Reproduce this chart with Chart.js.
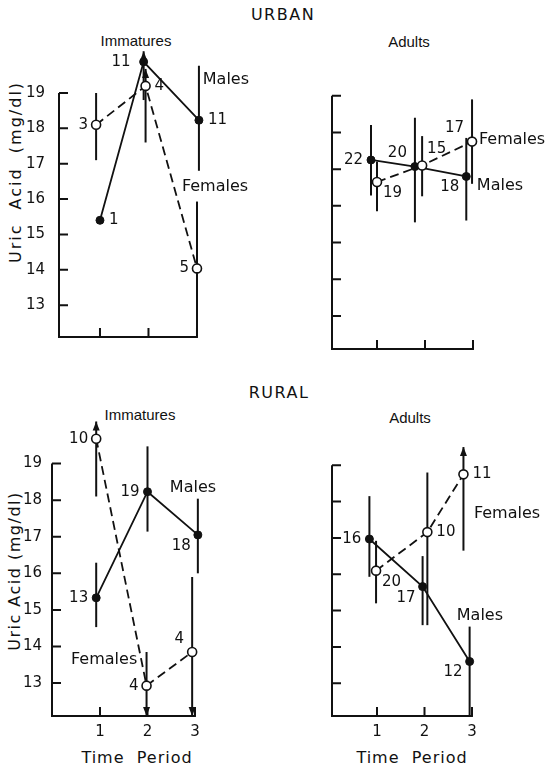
<!DOCTYPE html>
<html>
<head>
<meta charset="utf-8">
<script src="https://cdn.jsdelivr.net/npm/chart.js@4.4.1/dist/chart.umd.min.js"></script>
<style>
  body { margin: 0; background: #fff; }
  #wrap { position: relative; width: 547px; height: 766px; font-family: 'DejaVu Sans', sans-serif; color: #111; }
  canvas { position: absolute; }
  .lbl { position: absolute; white-space: pre; transform: translate(-50%, -50%); }
  .head { font-family: 'Liberation Sans', sans-serif; font-size: 15px; }
  .ytitle { position: absolute; white-space: pre; font-size: 16px; transform: translate(-50%, -50%) rotate(-90deg); }
</style>
</head>
<body>
<div id="wrap">
  <div class="lbl" style="left:283px;top:14px;font-size:16px;letter-spacing:1.5px">URBAN</div>
  <div class="lbl" style="left:279px;top:392px;font-size:16px;letter-spacing:1.5px">RURAL</div>
  <div class="lbl head" style="left:136px;top:40px">Immatures</div>
  <div class="lbl head" style="left:409px;top:41px">Adults</div>
  <div class="lbl head" style="left:140px;top:414px">Immatures</div>
  <div class="lbl head" style="left:410px;top:417px">Adults</div>
  <div class="ytitle" style="left:15px;top:172px;letter-spacing:2px">Uric  Acid  (mg/dl)</div>
  <div class="ytitle" style="left:14px;top:571px;letter-spacing:1.5px">Uric Acid (mg/dl)</div>
  <div class="lbl" style="left:137px;top:757px;font-size:16px;letter-spacing:1px">Time  Period</div>
  <div class="lbl" style="left:412px;top:757px;font-size:16px;letter-spacing:1px">Time  Period</div>

  <canvas id="urbanImm" width="273" height="360" style="left:0;top:0"></canvas>
  <canvas id="urbanAdult" width="274" height="360" style="left:273px;top:0"></canvas>
  <canvas id="ruralImm" width="273" height="406" style="left:0;top:360px"></canvas>
  <canvas id="ruralAdult" width="274" height="406" style="left:273px;top:360px"></canvas>
</div>

<script>
const periods = [1, 2, 3];
const yTickValues = [13, 14, 15, 16, 17, 18, 19];

// Urban immatures
const urbImmMaleX = [1.0, 1.9, 3.04];
const urbImmMaleMean = [15.4, 19.88, 18.23];
const urbImmMaleLow = [null, 18.8, 16.8];
const urbImmMaleHigh = [null, 20.18, 19.77];
const urbImmMaleArrow = ['', 'up', ''];
const urbImmMaleN = [1, 11, 11];
const urbImmFemX = [0.92, 1.94, 3.0];
const urbImmFemMean = [18.1, 19.2, 14.04];
const urbImmFemLow = [17.1, 17.6, 12.1];
const urbImmFemHigh = [19.0, 19.68, 15.93];
const urbImmFemArrow = ['', 'up', ''];
const urbImmFemN = [3, 4, 5];

// Urban adults
const urbAdMaleX = [0.875, 1.79, 2.86];
const urbAdMaleMean = [17.25, 17.07, 16.8];
const urbAdMaleLow = [16.28, 15.55, 15.6];
const urbAdMaleHigh = [18.2, 18.4, 17.85];
const urbAdMaleArrow = ['', '', ''];
const urbAdMaleN = [22, 20, 18];
const urbAdFemX = [1.0, 1.94, 2.98];
const urbAdFemMean = [16.65, 17.1, 17.75];
const urbAdFemLow = [15.85, 16.26, 16.6];
const urbAdFemHigh = [17.2, 17.9, 18.9];
const urbAdFemArrow = ['', '', ''];
const urbAdFemN = [19, 15, 17];

// Rural immatures
const rurImmMaleX = [0.92, 2.0, 3.06];
const rurImmMaleMean = [15.33, 18.23, 17.05];
const rurImmMaleLow = [14.53, 17.14, 16.0];
const rurImmMaleHigh = [16.29, 19.47, 18.04];
const rurImmMaleArrow = ['', '', ''];
const rurImmMaleN = [13, 19, 18];
const rurImmFemX = [0.92, 1.98, 2.94];
const rurImmFemMean = [19.68, 12.93, 13.85];
const rurImmFemLow = [18.1, 12.1, 12.1];
const rurImmFemHigh = [20.15, 13.85, 15.9];
const rurImmFemArrow = ['up', 'down', 'down'];
const rurImmFemN = [10, 4, 4];

// Rural adults
const rurAdMaleX = [0.84, 1.96, 2.95];
const rurAdMaleMean = [16.97, 15.66, 13.6];
const rurAdMaleLow = [15.93, 14.6, 12.1];
const rurAdMaleHigh = [18.15, 16.5, 14.56];
const rurAdMaleArrow = ['', '', ''];
const rurAdMaleN = [16, 17, 12];
const rurAdFemX = [0.98, 2.06, 2.82];
const rurAdFemMean = [16.1, 17.16, 18.75];
const rurAdFemLow = [15.2, 14.6, 16.65];
const rurAdFemHigh = [16.92, 18.8, 19.5];
const rurAdFemArrow = ['', '', 'up'];
const rurAdFemN = [20, 10, 11];

const ink = '#111';
Chart.defaults.font.family = "'DejaVu Sans', sans-serif";
Chart.defaults.color = ink;

// where the sample size sits next to its point
const sideOffset = {
  l: [-8, 0, 'right'],
  L: [-13, 0, 'right'],
  r: [9, 0, 'left'],
  ul: [-8, -13, 'right'],
  ur: [5, -16, 'left'],
  dl: [-7, 11, 'right'],
  dr: [6, 11, 'left']
};

function arrowHead(ctx, x, tipY, dir) {
  ctx.beginPath();
  ctx.moveTo(x, tipY);
  ctx.lineTo(x - 3.5, tipY - dir * 9);
  ctx.lineTo(x + 3.5, tipY - dir * 9);
  ctx.closePath();
  ctx.fill();
}

const frame = {
  id: 'frame',
  beforeDatasetsDraw(chart) {
    const { ctx, chartArea, scales: { x, y } } = chart;
    const left = chartArea.left, bottom = chartArea.bottom;
    ctx.save();
    ctx.strokeStyle = ink;
    ctx.lineWidth = 2;
    ctx.beginPath();
    ctx.moveTo(left, y.getPixelForValue(19));
    ctx.lineTo(left, bottom);
    ctx.lineTo(x.getPixelForValue(3.02), bottom);
    yTickValues.forEach(v => {
      const py = y.getPixelForValue(v);
      ctx.moveTo(left, py);
      ctx.lineTo(left + 9, py);
    });
    periods.forEach(v => {
      const px = x.getPixelForValue(v);
      ctx.moveTo(px, bottom);
      ctx.lineTo(px, bottom - 9);
    });
    ctx.stroke();
    ctx.restore();
  }
};

const errorBars = {
  id: 'errorBars',
  beforeDatasetsDraw(chart) {
    const { ctx, scales: { x, y } } = chart;
    ctx.save();
    ctx.strokeStyle = ink;
    ctx.fillStyle = ink;
    ctx.lineWidth = 2;
    chart.data.datasets.forEach(ds => {
      ds.data.forEach((p, i) => {
        if (ds.low[i] == null) return;
        const px = x.getPixelForValue(p.x);
        const top = y.getPixelForValue(ds.high[i]);
        const bot = y.getPixelForValue(ds.low[i]);
        ctx.beginPath();
        ctx.moveTo(px, top);
        ctx.lineTo(px, bot);
        ctx.stroke();
        if (ds.arrow[i] === 'up') arrowHead(ctx, px, top, -1);
        if (ds.arrow[i] === 'down') arrowHead(ctx, px, bot, 1);
      });
    });
    ctx.restore();
  }
};

const annotate = {
  id: 'annotate',
  afterDatasetsDraw(chart, args, opts) {
    const { ctx, scales: { x, y } } = chart;
    ctx.save();
    ctx.fillStyle = ink;
    ctx.textBaseline = 'middle';
    ctx.font = "15px 'DejaVu Sans'";
    chart.data.datasets.forEach(ds => {
      ds.data.forEach((p, i) => {
        const [dx, dy, align] = sideOffset[ds.sides[i]];
        ctx.textAlign = align;
        ctx.fillText(String(ds.counts[i]), x.getPixelForValue(p.x) + dx, y.getPixelForValue(p.y) + dy);
      });
    });
    ctx.font = "16px 'DejaVu Sans'";
    ctx.textAlign = 'left';
    (opts.notes || []).forEach(n => {
      ctx.fillText(n.text, x.getPixelForValue(n.x), y.getPixelForValue(n.y));
    });
    ctx.restore();
  }
};

function points(xs, ys) {
  return xs.map((v, i) => ({ x: v, y: ys[i] }));
}

function series(sex, xs, mean, low, high, arrow, n, sides) {
  const male = sex === 'Males';
  return {
    label: sex,
    data: points(xs, mean),
    low: low,
    high: high,
    arrow: arrow,
    counts: n,
    sides: sides,
    borderColor: ink,
    borderWidth: 1.8,
    borderDash: male ? [] : [9, 5],
    pointRadius: male ? 4 : 4.5,
    pointBackgroundColor: male ? ink : '#fff',
    pointBorderColor: ink,
    pointBorderWidth: male ? 1 : 1.6,
    tension: 0
  };
}

function panel(id, female, male, cfg) {
  const canvas = document.getElementById(id);
  new Chart(canvas, {
    type: 'line',
    data: { datasets: [female, male] },
    options: {
      responsive: false,
      animation: false,
      layout: { padding: { top: cfg.top, right: canvas.width - cfg.right, left: 0, bottom: 0 } },
      plugins: {
        legend: { display: false },
        tooltip: { enabled: false },
        annotate: { notes: cfg.notes }
      },
      scales: {
        x: {
          type: 'linear',
          min: cfg.xMin,
          max: cfg.xMax,
          grid: { display: false, drawTicks: false },
          border: { display: false },
          afterBuildTicks: s => { s.ticks = periods.map(v => ({ value: v })); },
          afterFit: s => { s.height = canvas.height - cfg.bottom; },
          ticks: { display: cfg.showX, padding: 7, font: { size: 15 }, callback: v => String(v) }
        },
        y: {
          type: 'linear',
          min: 12.1,
          max: 20.3,
          grid: { display: false, drawTicks: false },
          border: { display: false },
          afterBuildTicks: s => { s.ticks = yTickValues.map(v => ({ value: v })); },
          afterFit: s => { s.width = cfg.left; },
          ticks: { display: cfg.showY, padding: cfg.yPad, font: { size: 15 }, callback: v => String(v) }
        }
      }
    },
    plugins: [frame, errorBars, annotate]
  });
}

panel('urbanImm',
  series('Females', urbImmFemX, urbImmFemMean, urbImmFemLow, urbImmFemHigh, urbImmFemArrow, urbImmFemN, ['l', 'r', 'l']),
  series('Males', urbImmMaleX, urbImmMaleMean, urbImmMaleLow, urbImmMaleHigh, urbImmMaleArrow, urbImmMaleN, ['r', 'L', 'r']),
  { left: 59, right: 216, top: 47, bottom: 347, xMin: 0.155, xMax: 3.392, showX: false, showY: true, yPad: 14,
    notes: [{ text: 'Males', x: 3.12, y: 19.36 }, { text: 'Females', x: 2.69, y: 16.34 }] });

panel('urbanAdult',
  series('Females', urbAdFemX, urbAdFemMean, urbAdFemLow, urbAdFemHigh, urbAdFemArrow, urbAdFemN, ['dr', 'ur', 'ul']),
  series('Males', urbAdMaleX, urbAdMaleMean, urbAdMaleLow, urbAdMaleHigh, urbAdMaleArrow, urbAdMaleN, ['l', 'ul', 'dl']),
  { left: 59, right: 218, top: 48, bottom: 349, xMin: 0.0625, xMax: 3.375, showX: false, showY: false, yPad: 14,
    notes: [{ text: 'Females', x: 3.125, y: 17.8 }, { text: 'Males', x: 3.08, y: 16.55 }] });

panel('ruralImm',
  series('Females', rurImmFemX, rurImmFemMean, rurImmFemLow, rurImmFemHigh, rurImmFemArrow, rurImmFemN, ['l', 'l', 'ul']),
  series('Males', rurImmMaleX, rurImmMaleMean, rurImmMaleLow, rurImmMaleHigh, rurImmMaleArrow, rurImmMaleN, ['l', 'l', 'dl']),
  { left: 52, right: 214, top: 56, bottom: 356, xMin: -0.0105, xMax: 3.40, showX: true, showY: true, yPad: 10,
    notes: [{ text: 'Males', x: 2.47, y: 18.34 }, { text: 'Females', x: 0.39, y: 13.63 }] });

panel('ruralAdult',
  series('Females', rurAdFemX, rurAdFemMean, rurAdFemLow, rurAdFemHigh, rurAdFemArrow, rurAdFemN, ['dr', 'r', 'r']),
  series('Males', rurAdMaleX, rurAdMaleMean, rurAdMaleLow, rurAdMaleHigh, rurAdMaleArrow, rurAdMaleN, ['l', 'dl', 'dl']),
  { left: 59, right: 218, top: 58, bottom: 356, xMin: 0.0526, xMax: 3.40, showX: true, showY: false, yPad: 14,
    notes: [{ text: 'Females', x: 3.04, y: 17.66 }, { text: 'Males', x: 2.68, y: 14.86 }] });
</script>
</body>
</html>
